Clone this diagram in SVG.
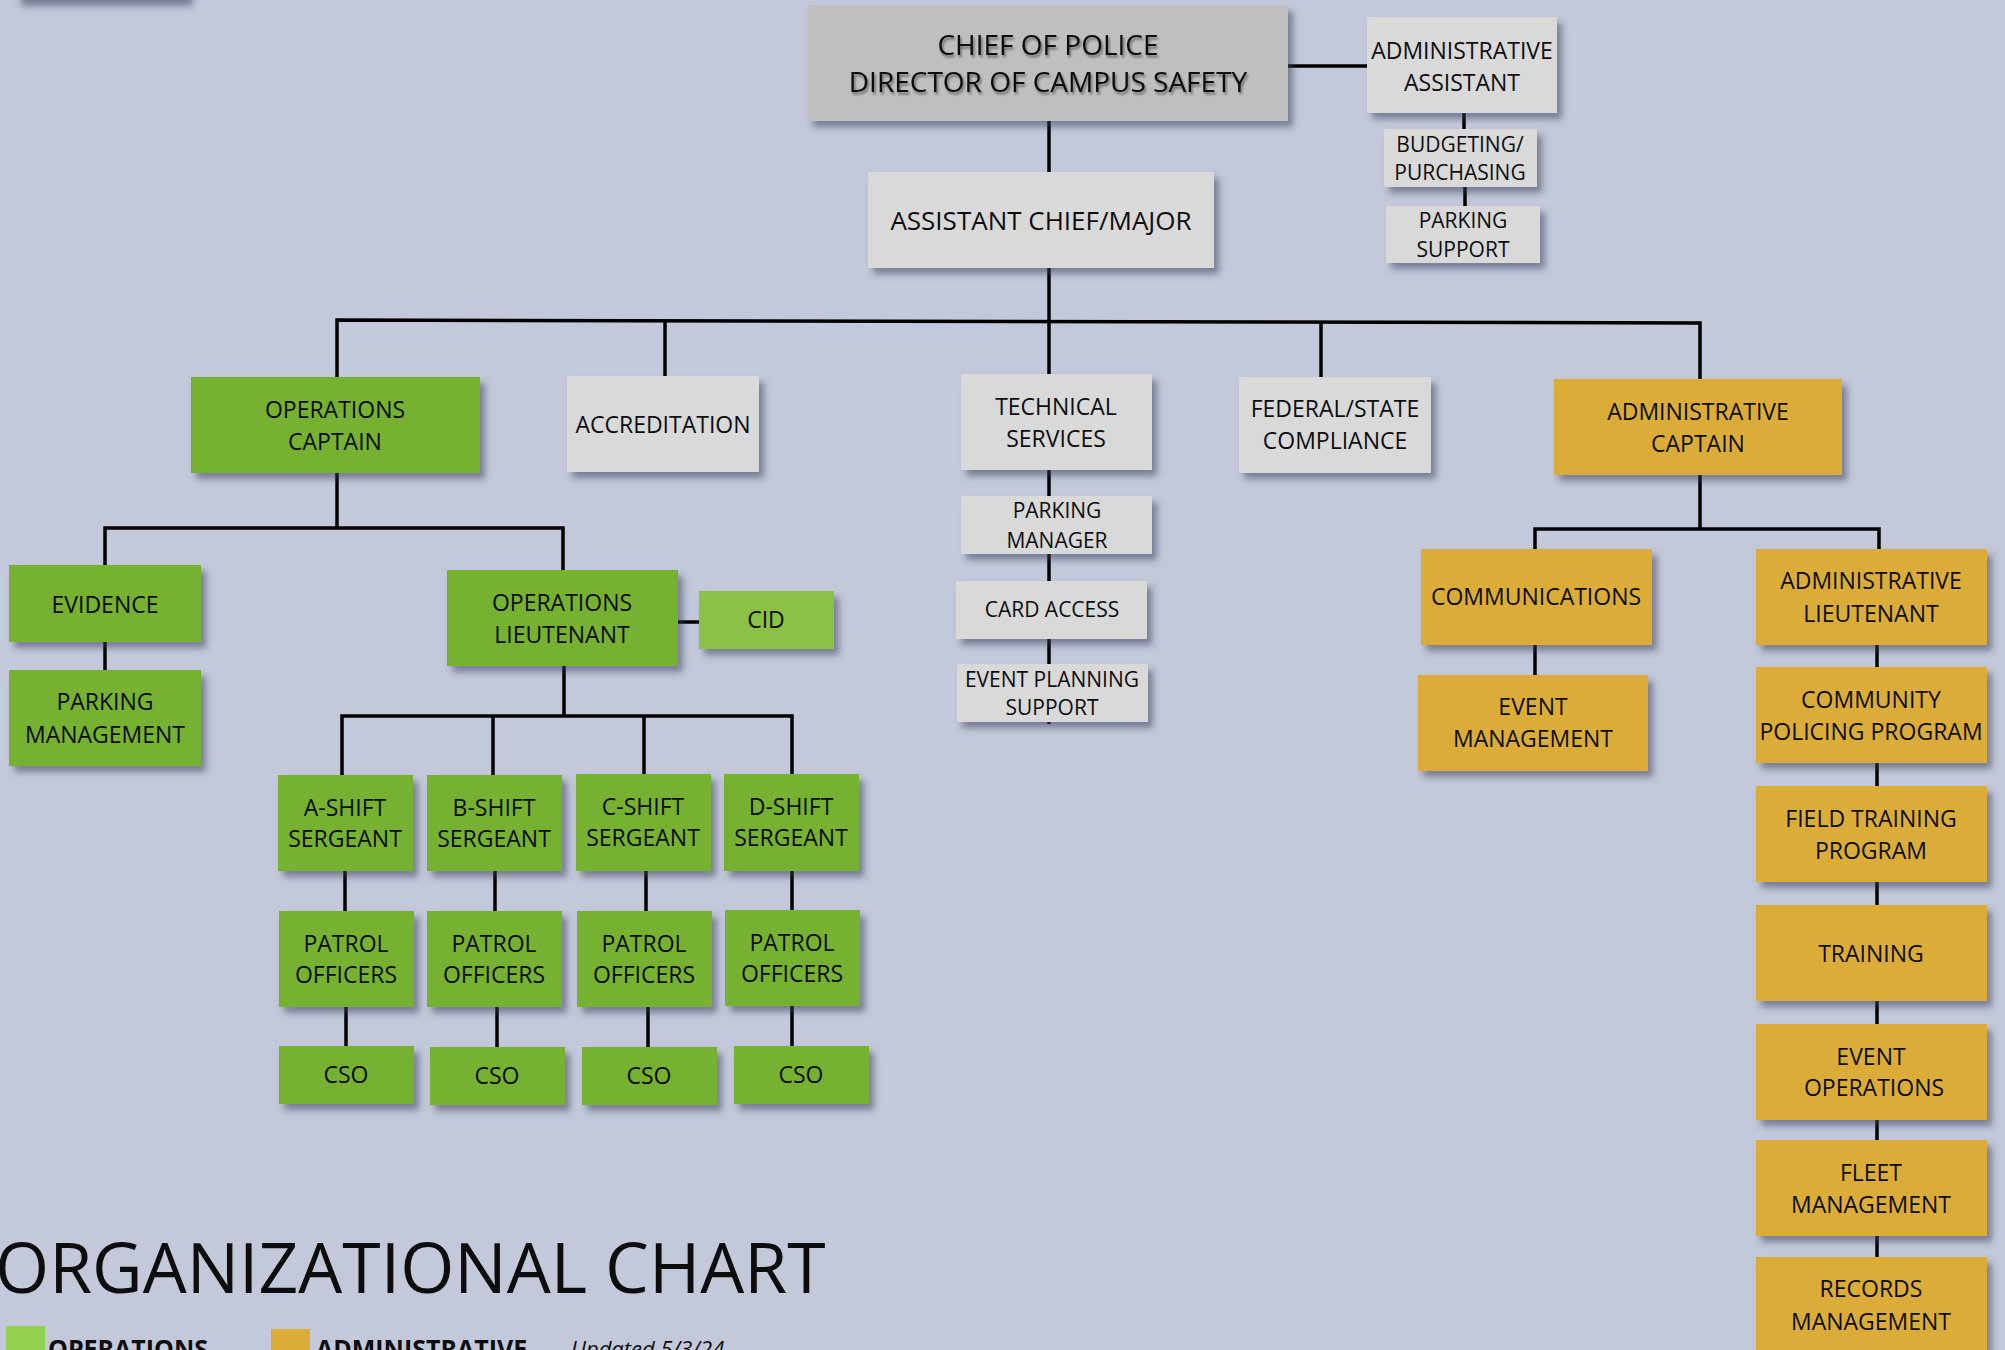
<svg xmlns="http://www.w3.org/2000/svg" width="2005" height="1350" viewBox="0 0 2005 1350">
<defs>
<filter id="sh" x="-20%" y="-20%" width="150%" height="160%">
<feDropShadow dx="5" dy="6" stdDeviation="3.5" flood-color="#3a4158" flood-opacity="0.55"/>
</filter>
<filter id="tsh" x="-10%" y="-30%" width="120%" height="160%">
<feDropShadow dx="1.5" dy="2.5" stdDeviation="1" flood-color="#000" flood-opacity="0.45"/>
</filter>
<style>
.g{fill:#76b130}
.lg{fill:#8bc145}
.y{fill:#dbad37}
.w{fill:#d9d9d9}
.c{fill:#bfbfbf}
.n rect{filter:url(#sh)}
.n text{font-family:"Open Sans","Noto Sans","Liberation Sans",sans-serif;font-size:23px;fill:#0d0d0d;text-anchor:middle}
.n text.s{font-size:21px}
.ln{fill:none;stroke:#000;stroke-width:3.5;stroke-linejoin:miter}
.leg{font-family:"Open Sans","Noto Sans","Liberation Sans",sans-serif;fill:#0d0d0d}
</style>
</defs>
<rect width="2005" height="1350" fill="#c3c9da"/>
<rect x="16" y="-60" width="172" height="60" fill="#c3c9da" filter="url(#sh)"/>

<g id="connectors">
<path class="ln" d="M1049 121V172"/>
<path class="ln" d="M1288 66H1367"/>
<path class="ln" d="M1464 113V129"/>
<path class="ln" d="M1465 187V206"/>
<path class="ln" d="M1049 268V374"/>
<path class="ln" d="M337 377V320L1700 323V379"/>
<path class="ln" d="M665 321V376"/>
<path class="ln" d="M1321 322V377"/>
<path class="ln" d="M337 473V528"/>
<path class="ln" d="M105 565V528H563V570"/>
<path class="ln" d="M105 642V670"/>
<path class="ln" d="M678 622H699"/>
<path class="ln" d="M564 666V716"/>
<path class="ln" d="M342 775V716H792V774"/>
<path class="ln" d="M493 716V775"/>
<path class="ln" d="M644 716V774"/>
<path class="ln" d="M345 871V911"/>
<path class="ln" d="M495 871V911"/>
<path class="ln" d="M646 871V911"/>
<path class="ln" d="M792 871V910"/>
<path class="ln" d="M346 1007V1046"/>
<path class="ln" d="M497 1007V1047"/>
<path class="ln" d="M648 1007V1047"/>
<path class="ln" d="M792 1006V1046"/>
<path class="ln" d="M1049 470V724"/>
<path class="ln" d="M1700 475V529"/>
<path class="ln" d="M1535 549V529H1879V549"/>
<path class="ln" d="M1535 645V675"/>
<path class="ln" d="M1877 645V1260"/>
</g>

<g id="chief" class="n"><rect class="c" x="808" y="5" width="480" height="116"/><g filter="url(#tsh)"><text x="1048" y="55" style="font-size:28px">CHIEF OF POLICE</text><text x="1048" y="92" style="font-size:28px">DIRECTOR OF CAMPUS SAFETY</text></g></g>
<g id="admin-assistant" class="n"><rect class="w" x="1367" y="17" width="190" height="96"/><text x="1462" y="59">ADMINISTRATIVE</text><text x="1462" y="91">ASSISTANT</text></g>
<g id="budgeting" class="n"><rect class="w" x="1384" y="129" width="153" height="58"/><text class="s" x="1460" y="152">BUDGETING/</text><text class="s" x="1460" y="180">PURCHASING</text></g>
<g id="parking-support" class="n"><rect class="w" x="1386" y="206" width="154" height="57"/><text class="s" x="1463" y="228">PARKING</text><text class="s" x="1463" y="257">SUPPORT</text></g>
<g id="assistant-chief" class="n"><rect class="w" x="868" y="172" width="346" height="96"/><text x="1041" y="230" style="font-size:26px">ASSISTANT CHIEF/MAJOR</text></g>

<g id="operations-captain" class="n"><rect class="g" x="191" y="377" width="289" height="96"/><text x="335" y="418">OPERATIONS</text><text x="335" y="450">CAPTAIN</text></g>
<g id="accreditation" class="n"><rect class="w" x="567" y="376" width="192" height="96"/><text x="663" y="433">ACCREDITATION</text></g>
<g id="technical-services" class="n"><rect class="w" x="961" y="374" width="191" height="96"/><text x="1056" y="415">TECHNICAL</text><text x="1056" y="447">SERVICES</text></g>
<g id="parking-manager" class="n"><rect class="w" x="961" y="496" width="191" height="58"/><text class="s" x="1057" y="518">PARKING</text><text class="s" x="1057" y="548">MANAGER</text></g>
<g id="card-access" class="n"><rect class="w" x="956" y="581" width="191" height="58"/><text class="s" x="1052" y="617">CARD ACCESS</text></g>
<g id="event-planning-support" class="n"><rect class="w" x="957" y="664" width="191" height="58"/><text class="s" x="1052" y="687">EVENT PLANNING</text><text class="s" x="1052" y="715">SUPPORT</text></g>
<g id="federal-state-compliance" class="n"><rect class="w" x="1239" y="377" width="192" height="96"/><text x="1335" y="417">FEDERAL/STATE</text><text x="1335" y="449">COMPLIANCE</text></g>
<g id="administrative-captain" class="n"><rect class="y" x="1554" y="379" width="288" height="96"/><text x="1698" y="420">ADMINISTRATIVE</text><text x="1698" y="452">CAPTAIN</text></g>

<g id="evidence" class="n"><rect class="g" x="9" y="565" width="192" height="77"/><text x="105" y="613">EVIDENCE</text></g>
<g id="parking-management" class="n"><rect class="g" x="9" y="670" width="192" height="96"/><text x="105" y="710">PARKING</text><text x="105" y="743">MANAGEMENT</text></g>
<g id="operations-lieutenant" class="n"><rect class="g" x="447" y="570" width="231" height="96"/><text x="562" y="611">OPERATIONS</text><text x="562" y="643">LIEUTENANT</text></g>
<g id="cid" class="n"><rect class="lg" x="699" y="591" width="135" height="58"/><text x="766" y="628">CID</text></g>

<g id="a-shift-sergeant" class="n"><rect class="g" x="278" y="775" width="135" height="96"/><text x="345" y="816">A-SHIFT</text><text x="345" y="847">SERGEANT</text></g>
<g id="b-shift-sergeant" class="n"><rect class="g" x="427" y="775" width="135" height="96"/><text x="494" y="816">B-SHIFT</text><text x="494" y="847">SERGEANT</text></g>
<g id="c-shift-sergeant" class="n"><rect class="g" x="576" y="774" width="135" height="97"/><text x="643" y="815">C-SHIFT</text><text x="643" y="846">SERGEANT</text></g>
<g id="d-shift-sergeant" class="n"><rect class="g" x="724" y="774" width="135" height="97"/><text x="791" y="815">D-SHIFT</text><text x="791" y="846">SERGEANT</text></g>

<g id="patrol-a" class="n"><rect class="g" x="279" y="911" width="135" height="96"/><text x="346" y="952">PATROL</text><text x="346" y="983">OFFICERS</text></g>
<g id="patrol-b" class="n"><rect class="g" x="427" y="911" width="135" height="96"/><text x="494" y="952">PATROL</text><text x="494" y="983">OFFICERS</text></g>
<g id="patrol-c" class="n"><rect class="g" x="577" y="911" width="135" height="96"/><text x="644" y="952">PATROL</text><text x="644" y="983">OFFICERS</text></g>
<g id="patrol-d" class="n"><rect class="g" x="725" y="910" width="135" height="96"/><text x="792" y="951">PATROL</text><text x="792" y="982">OFFICERS</text></g>

<g id="cso-a" class="n"><rect class="g" x="279" y="1046" width="135" height="58"/><text x="346" y="1083">CSO</text></g>
<g id="cso-b" class="n"><rect class="g" x="430" y="1047" width="135" height="58"/><text x="497" y="1084">CSO</text></g>
<g id="cso-c" class="n"><rect class="g" x="582" y="1047" width="135" height="58"/><text x="649" y="1084">CSO</text></g>
<g id="cso-d" class="n"><rect class="g" x="734" y="1046" width="135" height="58"/><text x="801" y="1083">CSO</text></g>

<g id="communications" class="n"><rect class="y" x="1421" y="549" width="231" height="96"/><text x="1536" y="605">COMMUNICATIONS</text></g>
<g id="event-management" class="n"><rect class="y" x="1418" y="675" width="230" height="96"/><text x="1533" y="715">EVENT</text><text x="1533" y="747">MANAGEMENT</text></g>
<g id="administrative-lieutenant" class="n"><rect class="y" x="1756" y="549" width="231" height="96"/><text x="1871" y="589">ADMINISTRATIVE</text><text x="1871" y="622">LIEUTENANT</text></g>
<g id="community-policing" class="n"><rect class="y" x="1756" y="667" width="231" height="96"/><text x="1871" y="708">COMMUNITY</text><text x="1871" y="740">POLICING PROGRAM</text></g>
<g id="field-training" class="n"><rect class="y" x="1756" y="786" width="231" height="96"/><text x="1871" y="827">FIELD TRAINING</text><text x="1871" y="859">PROGRAM</text></g>
<g id="training" class="n"><rect class="y" x="1756" y="905" width="231" height="96"/><text x="1871" y="962">TRAINING</text></g>
<g id="event-operations" class="n"><rect class="y" x="1756" y="1024" width="231" height="96"/><text x="1871" y="1065">EVENT</text><text x="1874" y="1096">OPERATIONS</text></g>
<g id="fleet-management" class="n"><rect class="y" x="1756" y="1140" width="231" height="96"/><text x="1871" y="1181">FLEET</text><text x="1871" y="1213">MANAGEMENT</text></g>
<g id="records-management" class="n"><rect class="y" x="1756" y="1257" width="231" height="110"/><text x="1871" y="1297">RECORDS</text><text x="1871" y="1330">MANAGEMENT</text></g>

<g id="title-legend">
<text class="leg" x="-5" y="1293" style="font-size:69.6px">ORGANIZATIONAL CHART</text>
<rect x="6" y="1326" width="39" height="30" fill="#92d050"/>
<text class="leg" x="48" y="1358" style="font-size:25px;font-weight:700">OPERATIONS</text>
<rect x="271" y="1329" width="39" height="30" fill="#dbad37"/>
<text class="leg" x="316" y="1358" style="font-size:25px;font-weight:700">ADMINISTRATIVE</text>
<text class="leg" x="571" y="1357" style="font-size:22px;font-style:italic">Updated 5/3/24</text>
</g>
</svg>
